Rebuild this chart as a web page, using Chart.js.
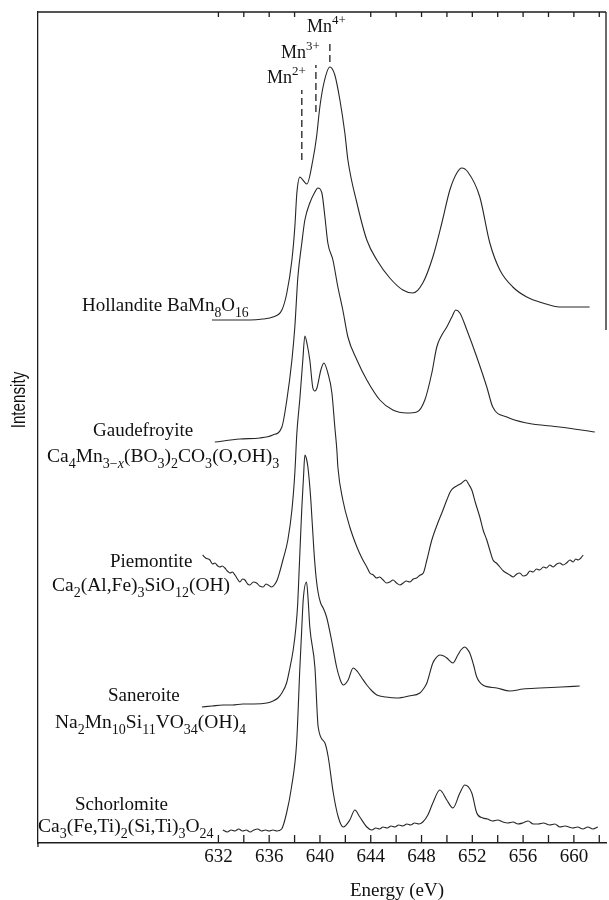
<!DOCTYPE html>
<html>
<head>
<meta charset="utf-8">
<script src="https://cdn.jsdelivr.net/npm/chart.js@4.4.1/dist/chart.umd.min.js"></script>
<style>
  body { margin: 0; background: #fff; }
  #wrap { width: 609px; height: 900px; }
</style>
</head>
<body>
<div id="wrap"><canvas id="grafico" width="609" height="900"></canvas></div>
<script>
// Mn L2,3 edge spectra, stacked (intensity includes the offset of each curve)
const energyHollandite = [631.49, 632.75, 634.48, 635.50, 636.29, 637.00, 637.39, 637.79, 638.02, 638.18, 638.42, 638.65, 638.97, 639.44, 639.73, 639.99, 640.31, 640.78, 641.17, 641.57, 641.96, 642.20, 642.91, 643.69, 644.48, 645.50, 646.53, 647.31, 648.10, 648.89, 649.60, 650.23, 650.78, 651.17, 651.65, 652.59, 653.38, 654.17, 655.19, 656.29, 657.55, 658.87, 661.24];
const intensityHollandite = [523, 523, 523, 524, 526, 533, 550, 583, 616, 650, 666, 663, 659, 683, 706, 736, 760, 776, 768, 743, 710, 683, 640, 603, 583, 565, 553, 550, 560, 586, 620, 653, 670, 675, 671, 646, 600, 573, 556, 546, 540, 536, 536];

const energyGaudefroyite = [631.72, 633.69, 635.27, 636.29, 637.00, 637.39, 637.79, 638.02, 638.26, 638.57, 638.81, 639.20, 639.60, 639.83, 640.15, 640.39, 640.62, 641.02, 641.41, 641.80, 642.20, 642.91, 643.69, 644.72, 645.74, 646.84, 647.63, 648.26, 648.81, 649.20, 649.60, 649.99, 650.39, 650.70, 651.02, 651.57, 652.35, 653.14, 653.61, 654.72, 656.29, 658.87, 661.65];
const intensityGaudefroyite = [401, 404, 405, 408, 416, 443, 483, 516, 566, 600, 623, 640, 651, 655, 650, 626, 600, 583, 556, 533, 506, 483, 463, 443, 433, 430, 431, 443, 470, 496, 508, 516, 526, 533, 530, 513, 486, 456, 436, 426, 420, 416, 411];

const energyPiemontite = [630.76, 631.00, 631.33, 631.55, 631.72, 631.95, 632.12, 632.30, 632.51, 632.70, 632.91, 633.10, 633.30, 633.50, 633.69, 633.90, 634.09, 634.30, 634.48, 634.75, 635.01, 635.25, 635.53, 635.75, 635.92, 636.19, 636.40, 636.63, 636.85, 637.08, 637.47, 637.79, 638.02, 638.18, 638.42, 638.65, 638.81, 639.00, 639.20, 639.44, 639.60, 639.76, 640.07, 640.31, 640.62, 640.94, 641.17, 641.33, 641.41, 641.80, 642.35, 642.91, 643.30, 643.69, 643.93, 644.20, 644.46, 644.70, 644.98, 645.25, 645.50, 645.75, 646.03, 646.30, 646.56, 646.80, 647.09, 647.35, 647.61, 647.90, 648.14, 648.42, 648.81, 649.28, 649.60, 649.99, 650.30, 650.62, 650.90, 651.17, 651.49, 651.70, 651.96, 652.25, 652.59, 652.85, 653.14, 653.40, 653.63, 653.90, 654.17, 654.45, 654.69, 654.95, 655.22, 655.50, 655.74, 656.00, 656.27, 656.55, 656.79, 657.05, 657.31, 657.60, 657.84, 658.10, 658.37, 658.65, 658.89, 659.15, 659.42, 659.70, 659.94, 660.15, 660.34, 660.55, 660.73];
const intensityPiemontite = [288, 285, 283, 279, 280, 277, 276, 277, 275, 272, 270, 271, 268, 264, 261, 264, 263, 259, 258, 261, 260, 257, 256, 259, 258, 256, 258, 263, 272, 283, 303, 333, 370, 410, 445, 483, 507, 498, 483, 455, 452, 455, 473, 480, 470, 450, 416, 393, 376, 343, 316, 296, 285, 276, 270, 268, 265, 266, 263, 260, 261, 263, 260, 258, 260, 262, 261, 264, 265, 268, 270, 283, 303, 320, 330, 343, 352, 356, 358, 360, 363, 359, 353, 340, 326, 313, 303, 292, 283, 280, 276, 272, 270, 268, 266, 269, 270, 267, 268, 272, 271, 274, 273, 276, 275, 278, 276, 279, 280, 278, 280, 283, 281, 284, 283, 285, 288];

const energySaneroite = [630.70, 631.50, 632.35, 633.10, 633.93, 634.80, 635.82, 636.30, 636.69, 637.00, 637.37, 637.63, 637.89, 638.10, 638.25, 638.35, 638.45, 638.57, 638.70, 638.81, 638.92, 639.05, 639.28, 639.52, 639.70, 639.86, 640.05, 640.25, 640.52, 640.91, 641.31, 641.60, 641.83, 642.22, 642.61, 642.98, 643.30, 643.69, 644.10, 644.48, 645.20, 646.06, 647.00, 647.87, 648.20, 648.42, 648.89, 649.20, 649.44, 649.75, 649.99, 650.47, 650.86, 651.10, 651.41, 651.60, 651.80, 652.10, 652.35, 652.83, 653.93, 654.96, 656.00, 657.31, 659.00, 660.46];
const intensitySaneroite = [136, 137, 138, 138, 139, 139, 140, 142, 145, 150, 160, 175, 193, 215, 240, 270, 300, 335, 365, 388, 385, 376, 343, 293, 265, 250, 240, 235, 226, 203, 176, 163, 158, 163, 175, 171, 165, 158, 152, 148, 146, 145, 147, 150, 155, 160, 180, 186, 188, 187, 185, 180, 188, 193, 196, 194, 190, 178, 166, 158, 155, 152, 154, 155, 156, 157];

const energySchorlomite = [632.35, 632.70, 633.00, 633.30, 633.60, 633.90, 634.20, 634.50, 634.80, 635.10, 635.40, 635.70, 636.00, 636.30, 636.60, 636.98, 637.37, 637.76, 638.16, 638.42, 638.55, 638.68, 638.94, 639.07, 639.20, 639.60, 639.86, 640.39, 640.65, 641.05, 641.44, 641.83, 642.35, 642.75, 643.14, 643.69, 644.09, 644.40, 644.70, 644.96, 645.30, 645.60, 645.90, 646.20, 646.53, 646.85, 647.15, 647.45, 647.80, 648.10, 648.50, 648.89, 649.44, 649.99, 650.47, 651.02, 651.41, 651.96, 652.35, 652.83, 653.20, 653.60, 654.00, 654.40, 654.80, 655.20, 655.60, 655.98, 656.40, 656.80, 657.20, 657.60, 658.09, 658.50, 658.90, 659.30, 659.91, 660.30, 660.70, 661.10, 661.50, 661.89];
const intensitySchorlomite = [13, 11, 13, 12, 14, 12, 13, 11, 13, 14, 12, 13, 12, 13, 12, 14, 30, 56, 100, 176, 210, 243, 261, 243, 216, 176, 116, 100, 86, 50, 26, 16, 23, 33, 26, 16, 13, 15, 14, 16, 15, 17, 16, 18, 17, 19, 18, 20, 19, 21, 28, 40, 53, 43, 35, 50, 58, 50, 30, 25, 24, 22, 23, 21, 20, 21, 19, 20, 22, 19, 19, 20, 18, 19, 16, 17, 15, 16, 14, 16, 14, 16];

// Mn2+, Mn3+, Mn4+ reference lines
const refEnergy = [638.57, 639.68, 640.78];
const refLow = [683, 731, 781];
const refHigh = [753, 778, 803];

const tickValues = [632, 634, 636, 638, 640, 642, 644, 646, 648, 650, 652, 654, 656, 658, 660, 662];
const tickLabels = [632, 636, 640, 644, 648, 652, 656, 660];
const topTickValues = [632, 634, 636, 638, 644, 646, 648, 650, 652, 654, 656, 658, 660, 662];

const serif = "'Liberation Serif', 'Times New Roman', serif";
const ink = "#1e1e1e";

function puntos(ex, ey) {
  return ex.map((e, i) => ({ x: e, y: ey[i] }));
}

function curva(ex, ey) {
  return {
    data: puntos(ex, ey),
    borderColor: "#262626",
    borderWidth: 1.1,
    pointRadius: 0,
    fill: false,
    cubicInterpolationMode: "monotone"
  };
}

const datasets = [
  curva(energyHollandite, intensityHollandite),
  curva(energyGaudefroyite, intensityGaudefroyite),
  curva(energyPiemontite, intensityPiemontite),
  curva(energySaneroite, intensitySaneroite),
  curva(energySchorlomite, intensitySchorlomite)
];
refEnergy.forEach((e, i) => {
  datasets.push({
    data: [{ x: e, y: refLow[i] }, { x: e, y: refHigh[i] }],
    borderColor: ink,
    borderWidth: 1.3,
    borderDash: [7, 4],
    pointRadius: 0,
    fill: false
  });
});

// text with sub/superscripts
function drawRich(ctx, x, y, parts, size) {
  let cx = x;
  parts.forEach(([txt, mode]) => {
    let s = size, dy = 0, style = "";
    if (mode === "b") { s = size * 0.72; dy = size * 0.3; }
    if (mode === "bi") { s = size * 0.72; dy = size * 0.3; style = "italic "; }
    if (mode === "p") { s = size * 0.72; dy = -size * 0.42; }
    ctx.font = style + s + "px " + serif;
    ctx.fillText(txt, cx, y + dy);
    cx += ctx.measureText(txt).width;
  });
}

const etiquetas = [
  { x: 82, y: 311, size: 19, parts: [["Hollandite BaMn", ""], ["8", "b"], ["O", ""], ["16", "b"]] },
  { x: 93, y: 436, size: 19, parts: [["Gaudefroyite", ""]] },
  { x: 47, y: 462, size: 19.5, parts: [["Ca", ""], ["4", "b"], ["Mn", ""], ["3\u2212", "b"], ["x", "bi"], ["(BO", ""], ["3", "b"], [")", ""], ["2", "b"], ["CO", ""], ["3", "b"], ["(O,OH)", ""], ["3", "b"]] },
  { x: 110, y: 567, size: 19, parts: [["Piemontite", ""]] },
  { x: 52, y: 591, size: 19.5, parts: [["Ca", ""], ["2", "b"], ["(Al,Fe)", ""], ["3", "b"], ["SiO", ""], ["12", "b"], ["(OH)", ""]] },
  { x: 108, y: 701, size: 19, parts: [["Saneroite", ""]] },
  { x: 55, y: 728, size: 19.5, parts: [["Na", ""], ["2", "b"], ["Mn", ""], ["10", "b"], ["Si", ""], ["11", "b"], ["VO", ""], ["34", "b"], ["(OH)", ""], ["4", "b"]] },
  { x: 75, y: 810, size: 19, parts: [["Schorlomite", ""]] },
  { x: 38, y: 832, size: 19.5, parts: [["Ca", ""], ["3", "b"], ["(Fe,Ti)", ""], ["2", "b"], ["(Si,Ti)", ""], ["3", "b"], ["O", ""], ["24", "b"]] },
  { x: 307, y: 32, size: 18, parts: [["Mn", ""], ["4+", "p"]] },
  { x: 281, y: 58, size: 18, parts: [["Mn", ""], ["3+", "p"]] },
  { x: 267, y: 83, size: 18, parts: [["Mn", ""], ["2+", "p"]] }
];

const marco = {
  id: "marco",
  afterDraw(chart) {
    const { ctx, chartArea: { left, right, top, bottom }, scales: { x } } = chart;
    ctx.save();
    ctx.strokeStyle = ink;
    ctx.lineWidth = 1.3;
    ctx.beginPath();
    ctx.moveTo(left, top);
    ctx.lineTo(right, top);
    ctx.moveTo(right, top);
    ctx.lineTo(right, 330);
    ctx.moveTo(left, bottom);
    ctx.lineTo(left, bottom + 4);
    tickValues.forEach(v => {
      const px = x.getPixelForValue(v);
      ctx.moveTo(px, bottom);
      ctx.lineTo(px, bottom - 8);
    });
    topTickValues.forEach(v => {
      const px = x.getPixelForValue(v);
      ctx.moveTo(px, top);
      ctx.lineTo(px, top + 5);
    });
    ctx.stroke();

    ctx.fillStyle = "#111";
    ctx.textAlign = "left";
    ctx.textBaseline = "alphabetic";
    etiquetas.forEach(l => drawRich(ctx, l.x, l.y, l.parts, l.size));

    ctx.font = "19px " + serif;
    ctx.textAlign = "center";
    ctx.fillText("Energy (eV)", 397, 896);

    // narrow, tall lettering as in the original
    ctx.translate(20, 400);
    ctx.rotate(-Math.PI / 2);
    ctx.scale(0.8, 1.05);
    ctx.textBaseline = "middle";
    ctx.font = "19px 'Liberation Sans', Arial, sans-serif";
    ctx.fillText("Intensity", 0, 0);
    ctx.restore();
  }
};

new Chart(document.getElementById("grafico"), {
  type: "line",
  data: { datasets: datasets },
  options: {
    responsive: false,
    animation: false,
    devicePixelRatio: 1,
    layout: { padding: { top: 12, right: 3, left: 0, bottom: 0 } },
    plugins: { legend: { display: false }, tooltip: { enabled: false } },
    scales: {
      x: {
        type: "linear",
        min: 617.79,
        max: 662.53,
        afterBuildTicks: scale => { scale.ticks = tickValues.map(v => ({ value: v })); },
        afterFit: scale => { scale.height = 57; },
        grid: { display: false, drawTicks: false, tickLength: 0 },
        border: { display: true, color: ink, width: 1.5 },
        ticks: {
          autoSkip: false,
          maxRotation: 0,
          padding: 3,
          color: "#111",
          font: { family: serif, size: 19 },
          callback: v => tickLabels.includes(v) ? String(v) : ""
        }
      },
      y: {
        type: "linear",
        min: 0,
        max: 831,
        afterFit: scale => { scale.width = 38; },
        grid: { display: false, drawTicks: false },
        border: { display: true, color: ink, width: 1.3 },
        ticks: { display: false }
      }
    }
  },
  plugins: [marco]
});
</script>
</body>
</html>
